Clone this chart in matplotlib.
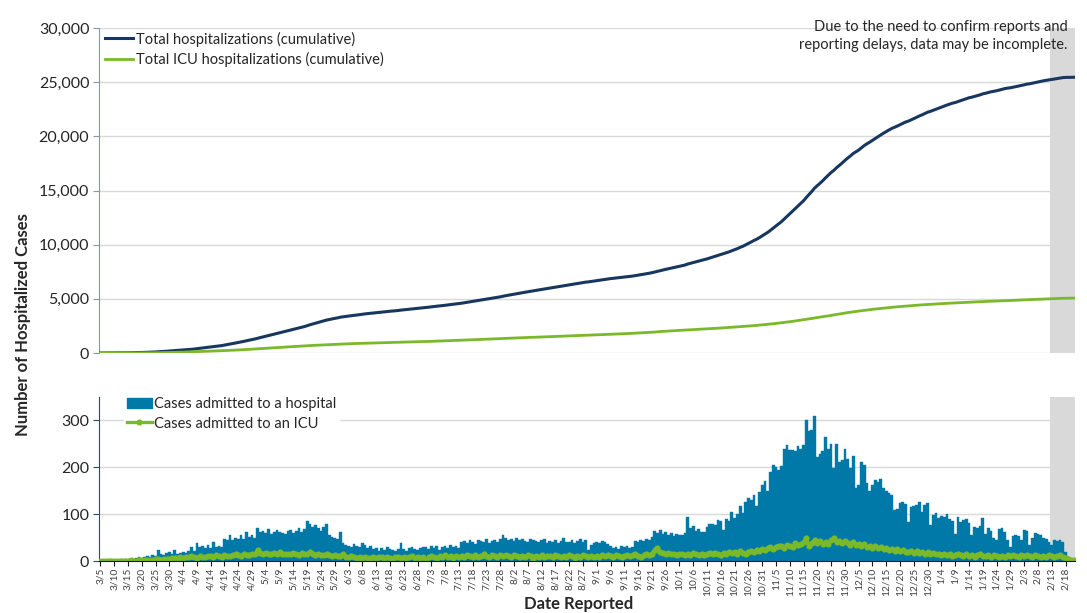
import matplotlib
matplotlib.use("Agg")
import matplotlib.pyplot as plt
import numpy as np
from matplotlib.ticker import FuncFormatter, FixedLocator
from matplotlib.lines import Line2D
from matplotlib.patches import Patch

plt.rcParams['font.family'] = ['Lato', 'DejaVu Sans']

# ---------------- data ----------------
# Daily cases admitted to a hospital, one value per day starting 3/5
hosp_mar = [0, 1, 0, 1, 2, 1, 2, 3, 2, 4, 3, 5, 4, 6, 8, 7, 9, 10, 8, 12, 11, 24, 14, 12, 17, 19, 15]
hosp_apr = [24, 16, 18, 20, 17, 21, 29, 22, 38, 30, 31, 28, 35, 27, 40, 30, 31, 29, 46, 44,
            55, 45, 50, 48, 55, 47, 62, 52, 55, 50]
hosp_may = [71, 62, 65, 60, 68, 58, 63, 66, 62, 60, 58, 64, 67, 60, 65, 70, 62, 68, 85, 80,
            72, 76, 70, 65, 72, 78, 55, 52, 50, 48, 62]
hosp_jun = [38, 35, 32, 30, 36, 33, 30, 38, 34, 28, 32, 25, 27, 22, 28, 24, 30, 26, 23, 21,
            25, 38, 26, 22, 28, 30, 25, 24, 27, 29]
hosp_jul = [30, 26, 32, 28, 33, 24, 29, 31, 27, 35, 30, 33, 28, 40, 42, 38, 44, 41, 36, 45,
            43, 40, 46, 38, 42, 44, 40, 48, 56, 50, 44]
hosp_aug = [47, 42, 50, 45, 48, 43, 40, 46, 44, 42, 40, 44, 46, 38, 42, 40, 45, 39, 43, 49,
            41, 40, 44, 38, 42, 46, 40, 44, 24, 35, 38]
hosp_sep = [40, 38, 42, 40, 36, 32, 28, 30, 26, 31, 29, 33, 28, 30, 42, 40, 44, 43, 46, 44,
            52, 64, 60, 66, 58, 62, 55, 60, 54, 58]
hosp_oct = [56, 55, 60, 94, 70, 74, 65, 68, 63, 62, 72, 80, 78, 76, 88, 86, 66, 90, 85, 105,
            92, 100, 118, 102, 127, 135, 130, 141, 118, 148, 162]
hosp_nov = [170, 150, 191, 205, 200, 195, 202, 240, 248, 236, 238, 234, 245, 240, 248, 302,
            278, 280, 310, 222, 228, 235, 264, 240, 250, 198, 249, 211, 215, 240]
hosp_dec = [217, 198, 224, 155, 163, 211, 204, 166, 150, 162, 172, 168, 174, 155, 150, 145,
            140, 109, 112, 123, 127, 121, 83, 115, 118, 120, 125, 104, 120, 123, 77]
hosp_jan = [98, 102, 92, 96, 94, 100, 90, 86, 58, 93, 84, 88, 90, 82, 55, 72, 70, 74, 92,
            58, 70, 64, 50, 44, 68, 70, 62, 44, 30, 53, 56]
hosp_feb = [54, 44, 66, 64, 34, 50, 60, 58, 56, 50, 48, 40, 34, 44, 42, 45, 41, 20, 8, 4, 2]

# Daily cases admitted to an ICU
icu_mar = [0, 0, 0, 1, 0, 1, 0, 1, 1, 0, 1, 2, 1, 1, 2, 2, 3, 2, 3, 3, 4, 4, 3, 5, 5, 4, 6]
icu_apr = [7, 6, 8, 7, 9, 8, 10, 8, 7, 10, 9, 8, 11, 10, 9, 12, 10, 9, 13, 11,
           10, 12, 14, 12, 11, 14, 13, 12, 15, 14]
icu_may = [24, 17, 15, 18, 16, 14, 17, 15, 19, 16, 14, 16, 14, 17, 15, 13, 17, 14, 16, 19,
           14, 12, 15, 13, 12, 14, 12, 10, 12, 10, 11]
icu_jun = [14, 9, 8, 10, 8, 7, 9, 6, 8, 7, 6, 8, 7, 9, 8, 6, 8, 7, 5, 8,
           9, 7, 8, 6, 8, 10, 7, 9, 6, 8]
icu_jul = [2, 8, 11, 9, 7, 10, 8, 12, 9, 11, 7, 10, 8, 11, 9, 13, 10, 8, 12, 9,
           11, 14, 10, 8, 12, 11, 9, 13, 10, 12, 11]
icu_aug = [9, 12, 10, 8, 11, 9, 13, 10, 2, 11, 9, 12, 8, 10, 11, 9, 13, 10, 8, 11,
           9, 12, 10, 7, 11, 9, 12, 10, 8, 11, 9]
icu_sep = [11, 9, 12, 10, 13, 11, 8, 12, 10, 9, 11, 13, 10, 12, 14, 11, 9, 12, 15, 13,
           16, 24, 27, 19, 17, 15, 18, 14, 16, 13]
icu_oct = [16, 14, 12, 15, 13, 17, 14, 12, 16, 13, 15, 18, 14, 17, 15, 13, 18, 16, 20, 17,
           19, 15, 21, 18, 16, 20, 22, 19, 24, 21, 25]
icu_nov = [23, 27, 29, 26, 30, 33, 31, 28, 35, 32, 30, 38, 34, 36, 40, 50, 33, 39, 45, 38,
           42, 36, 41, 37, 44, 50, 40, 43, 39, 42]
icu_dec = [38, 35, 40, 34, 37, 33, 36, 30, 32, 28, 31, 27, 29, 25, 28, 24, 26, 22, 25, 21,
           23, 20, 19, 22, 18, 21, 17, 20, 16, 19, 15]
icu_jan = [17, 14, 16, 13, 15, 12, 14, 11, 13, 16, 12, 10, 14, 11, 13, 9, 12, 15, 10, 11,
           13, 9, 12, 10, 8, 11, 9, 12, 10, 13, 11]
icu_feb = [9, 12, 10, 13, 11, 9, 12, 10, 8, 11, 9, 13, 10, 8, 11, 12, 9, 7, 5, 3, 2]

tick_labels = ["3/5", "3/10", "3/15", "3/20", "3/25", "3/30", "4/4", "4/9", "4/14", "4/19",
               "4/24", "4/29", "5/4", "5/9", "5/14", "5/19", "5/24", "5/29", "6/3", "6/8",
               "6/13", "6/18", "6/23", "6/28", "7/3", "7/8", "7/13", "7/18", "7/23", "7/28",
               "8/2", "8/7", "8/12", "8/17", "8/22", "8/27", "9/1", "9/6", "9/11", "9/16",
               "9/21", "9/26", "10/1", "10/6", "10/11", "10/16", "10/21", "10/26", "10/31",
               "11/5", "11/10", "11/15", "11/20", "11/25", "11/30", "12/5", "12/10", "12/15",
               "12/20", "12/25", "12/30", "1/4", "1/9", "1/14", "1/19", "1/24", "1/29", "2/3",
               "2/8", "2/13", "2/18"]
tick_step = 5
incomplete_from = 344.5  # index (days) where reporting may be incomplete

hosp = np.array(hosp_mar + hosp_apr + hosp_may + hosp_jun + hosp_jul + hosp_aug + hosp_sep
                + hosp_oct + hosp_nov + hosp_dec + hosp_jan + hosp_feb, dtype=float)
icu = np.array(icu_mar + icu_apr + icu_may + icu_jun + icu_jul + icu_aug + icu_sep
               + icu_oct + icu_nov + icu_dec + icu_jan + icu_feb, dtype=float)
hosp_cum = np.cumsum(hosp)
icu_cum = np.cumsum(icu)
days = np.arange(len(hosp))

# ---------------- style ----------------
NAVY = '#17375e'
GREEN = '#7ab929'
BAR = '#0079a9'
GRID = '#d9d9d9'
SHADE = '#d9d9d9'
TXT = '#262626'

fig = plt.figure(figsize=(10.87, 6.13), dpi=100)
ax1 = fig.add_axes([0.0911, 0.4241, 0.898, 0.530])
ax2 = fig.add_axes([0.0911, 0.0848, 0.898, 0.2675])

xmin, xmax = -0.5, len(days) - 0.5

# ---- top panel ----
ax1.axvspan(incomplete_from, xmax, color=SHADE, zorder=0, lw=0)
ax1.plot(days, hosp_cum, color=NAVY, lw=2.2, zorder=3, label='Total hospitalizations (cumulative)')
ax1.plot(days, icu_cum, color=GREEN, lw=2.0, zorder=3, label='Total ICU hospitalizations (cumulative)')
ax1.set_xlim(xmin, xmax)
ax1.set_ylim(0, 30000)
ax1.set_yticks(np.arange(0, 30001, 5000))
ax1.yaxis.set_major_formatter(FuncFormatter(lambda v, p: f'{int(v):,}'))
ax1.grid(axis='y', color=GRID, lw=1)
ax1.set_axisbelow(True)
for s in ['top', 'right', 'bottom']:
    ax1.spines[s].set_visible(False)
ax1.spines['left'].set_color('#8497b0')
ax1.tick_params(axis='y', length=4, color='#8497b0', labelsize=11.5, labelcolor=TXT, pad=3)
ax1.tick_params(axis='x', bottom=False, labelbottom=False)
leg1 = ax1.legend(loc='upper left', bbox_to_anchor=(-0.007, 1.03), frameon=False,
                  fontsize=10.5, handlelength=1.9, handletextpad=0.2, labelspacing=0.4)
for t in leg1.get_texts():
    t.set_color(TXT)

# ---- bottom panel ----
ax2.axvspan(incomplete_from, xmax, ymin=0, ymax=1.0, color=SHADE, zorder=0, lw=0)
ax2.bar(days, hosp, width=1.0, color=BAR, edgecolor=BAR, lw=0.3, zorder=2)
ax2.plot(days, icu, color=GREEN, lw=2.4, marker='o', markersize=3.4, zorder=3)
ax2.set_xlim(xmin, xmax)
ax2.set_ylim(0, 350)
ax2.set_yticks([0, 100, 200, 300])
ax2.grid(axis='y', color=GRID, lw=1)
ax2.set_axisbelow(True)
for s in ['top', 'right']:
    ax2.spines[s].set_visible(False)
ax2.spines['left'].set_color('#1f4e79')
ax2.spines['bottom'].set_color('#1a1a1a')
ax2.spines['bottom'].set_zorder(4)
ax2.tick_params(axis='y', length=4, color='#1f4e79', labelsize=11.5, labelcolor=TXT, pad=3)
tick_pos = np.arange(len(tick_labels)) * tick_step
ax2.xaxis.set_major_locator(FixedLocator(tick_pos))
ax2.set_xticklabels(tick_labels, rotation=90, fontsize=7.3, color='#404040')
ax2.tick_params(axis='x', length=3.5, color='#1a1a1a', pad=1.5)

handles2 = [Patch(facecolor=BAR, edgecolor=BAR),
            Line2D([0], [0], color=GREEN, lw=2.4, marker='o', markersize=3.4)]
leg2 = ax2.legend(handles2, ['Cases admitted to a hospital', 'Cases admitted to an ICU'],
                  loc='upper left', bbox_to_anchor=(0.018, 1.06), frameon=True,
                  facecolor='white', edgecolor='white', framealpha=1.0, fontsize=10.5,
                  handlelength=1.7, handletextpad=0.15, labelspacing=0.35, borderpad=0.2)
for t in leg2.get_texts():
    t.set_color(TXT)

# ---- texts ----
fig.text(0.982, 0.967, 'Due to the need to confirm reports and\nreporting delays, data may be incomplete.',
         ha='right', va='top', fontsize=10.5, color=TXT, linespacing=1.35)
fig.text(0.021, 0.47, 'Number of Hospitalized Cases', rotation=90, ha='center', va='center',
         fontsize=12, fontweight='bold', color=TXT)
fig.text(0.532, 0.001, 'Date Reported', ha='center', va='bottom', fontsize=12,
         fontweight='bold', color=TXT)

fig.savefig('out.png', dpi=100)
